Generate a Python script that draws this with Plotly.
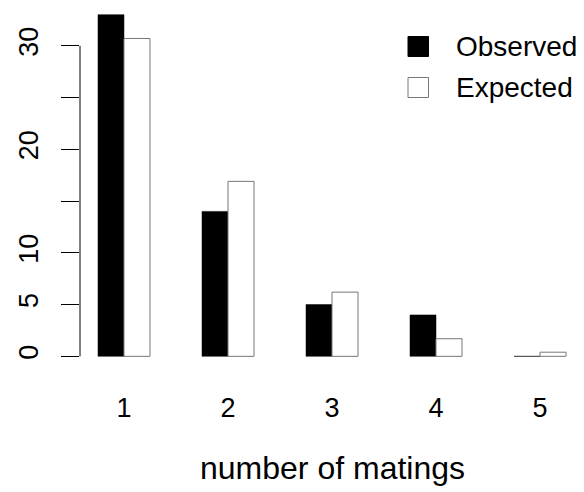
import plotly.graph_objects as go

categories = [1, 2, 3, 4, 5]
observed = [33, 14, 5, 4, 0]
expected = [30.7, 16.9, 6.2, 1.7, 0.4]
series_names = ["Observed", "Expected"]
y_tickvals = [0, 5, 10, 15, 20, 25, 30]
y_ticktext = ["0", "5", "10", "", "20", "", "30"]
x_title = "number of matings"

W, H = 584, 492
L, R, T, B = 80, 0, 1, 122
PW, PH = W - L - R, H - T - B
FONT = "Liberation Sans, Arial, Helvetica, sans-serif"

fig = go.Figure()
fig.add_trace(go.Bar(x=categories, y=observed, name=series_names[0],
                     marker=dict(color="black", line=dict(color="black", width=0.5)),
                     showlegend=False))
fig.add_trace(go.Bar(x=categories, y=expected, name=series_names[1],
                     marker=dict(color="white", line=dict(color="#777777", width=1)),
                     showlegend=False))

def px_x(p):
    return (p - L) / PW

def px_y(p):
    return (H - B - p) / PH

# y-axis line from first to last tick (R style)
fig.add_shape(type="line", xref="paper", yref="y", x0=0, x1=0,
              y0=y_tickvals[0], y1=y_tickvals[-1], line=dict(color="black", width=1))

# legend drawn manually
fills = ["black", "white"]
lines = ["black", "#777777"]
tops = [36.5, 77.5]
for name, fc, lc, t in zip(series_names, fills, lines, tops):
    fig.add_shape(type="rect", xref="paper", yref="paper",
                  x0=px_x(408), x1=px_x(428.5), y0=px_y(t), y1=px_y(t + 20),
                  fillcolor=fc, line=dict(color=lc, width=1))
    fig.add_annotation(xref="paper", yref="paper", x=px_x(454), y=px_y(t + 10),
                       text=name, showarrow=False, xanchor="left", yanchor="middle",
                       font=dict(size=28, color="black", family=FONT))

fig.add_annotation(xref="paper", yref="paper", x=0.5, y=px_y(468), text=x_title,
                   showarrow=False, xanchor="center", yanchor="middle",
                   font=dict(size=32, color="black", family=FONT))

fig.update_layout(
    width=W, height=H,
    margin=dict(l=L, r=R, t=T, b=B, autoexpand=False),
    barmode="group", bargap=0.5, bargroupgap=0,
    plot_bgcolor="white", paper_bgcolor="white",
    font=dict(family=FONT, size=27, color="black"),
    xaxis=dict(range=[0.577, 5.423], tickvals=categories,
               ticktext=[str(c) for c in categories],
               showgrid=False, zeroline=False, showline=False, automargin=False,
               ticks="outside", ticklen=14, tickcolor="rgba(0,0,0,0)",
               tickfont=dict(size=27)),
    yaxis=dict(range=[-1.32, 34.32], tickvals=y_tickvals, ticktext=y_ticktext,
               showgrid=False, zeroline=False, showline=False, automargin=False,
               ticks="outside", ticklen=18, tickwidth=1, tickcolor="black",
               tickangle=-90, tickfont=dict(size=27), ticklabelstandoff=12),
    showlegend=False,
)

fig.write_html("out.html", config={"displayModeBar": False},
               post_script="document.body.style.margin='0';document.body.style.padding='0';")
